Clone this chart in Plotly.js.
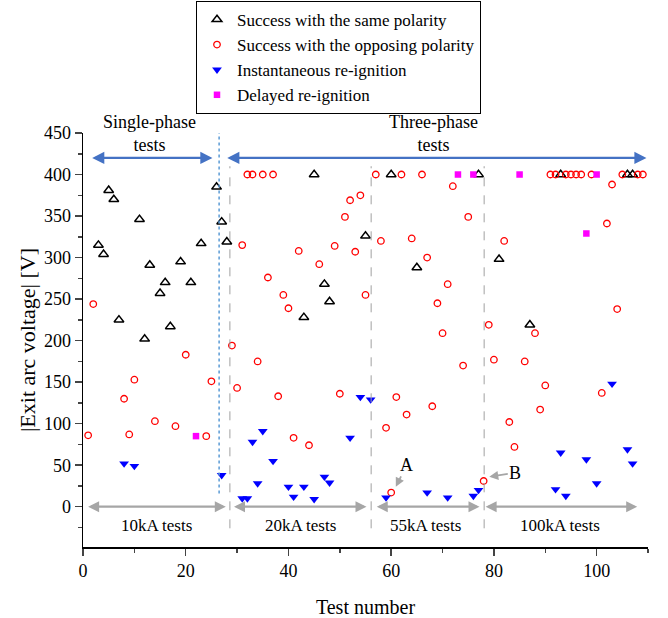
<!DOCTYPE html>
<html>
<head>
<meta charset="utf-8">
<script src="https://cdn.plot.ly/plotly-3.0.1.min.js"></script>
<style>html,body{margin:0;padding:0;background:#fff;}#chart{width:668px;height:618px;}</style>
</head>
<body>
<div id="chart"></div>
<script>
// Success with the same polarity
const samePolX = [3,4,5,6,7,11,12,13,15,16,17,19,21,23,26,27,28,43,45,47,48,55,60,65,77,81,87,93,106,107];
const samePolY = [315,304,381,370,225,346,202,291,257,270,217,295,270,317,385,343,319,228,400,268,247,326,400,288,400,298,219,400,400,400];

// Success with the opposing polarity
const oppPolX = [1,2,8,9,10,14,18,20,24,25,29,30,
  31,32,33,34,35,36,37,38,39,40,41,42,44,46,49,50,51,52,53,54,55,57,
  58,59,60,61,62,63,64,66,67,68,69,70,71,72,74,75,78,
  79,80,82,83,84,86,88,89,90,91,92,94,95,96,97,99,101,102,103,104,105,108,109];
const oppPolY = [86,244,130,87,153,103,97,183,85,151,194,143,
  315,400,400,175,400,276,400,133,255,239,83,308,74,292,314,136,349,369,307,375,255,400,
  320,95,17,132,400,111,323,400,300,121,245,209,268,386,170,349,31,
  219,177,320,102,72,175,209,117,146,400,400,400,400,400,400,400,137,341,388,238,400,400,400];

// Instantaneous re-ignition
const instX = [8,10,27,31,32,33,34,35,37,40,41,43,45,47,48,52,54,56,59,67,71,76,77,92,93,94,98,100,103,106,107];
const instY = [52,49,38,10,10,78,28,91,55,24,12,24,9,36,29,83,132,129,11,17,11,13,20,21,65,13,57,28,148,69,52];

// Delayed re-ignition
const delayX = [22,73,76,85,98,100];
const delayY = [85,400,400,400,329,400];

// Current groups (test number spans) and phase groups
const groupLabels = ["10kA tests","20kA tests","55kA tests","100kA tests"];
const groupStart = [0.7,29.1,56.9,78.1];
const groupEnd = [27.8,55.2,77.2,107.9];
const groupMid = [14.3,42.3,66.6,92.8];
const groupBounds = [28.6,56.1,78.1];
const phaseLabels = ["Single-phase<br>tests","Three-phase<br>tests"];
const phaseStart = [1.5,27.8];
const phaseEnd = [25.2,109.7];
const phaseMid = [13,68.3];
const phaseSplit = 26.5;

const serif = "Liberation Serif, Times New Roman, serif";

const traces = [
  {x: samePolX, y: samePolY, mode: "markers", type: "scatter", name: "Success with the same polarity",
   marker: {symbol: "triangle-up-open", size: 8.5, color: "#000", line: {width: 1.5, color: "#000"}}},
  {x: oppPolX, y: oppPolY, mode: "markers", type: "scatter", name: "Success with the opposing polarity",
   marker: {symbol: "circle-open", size: 6.5, color: "#ff0000", line: {width: 1.3, color: "#ff0000"}}},
  {x: instX, y: instY, mode: "markers", type: "scatter", name: "Instantaneous re-ignition",
   marker: {symbol: "triangle-down", size: 8.5, color: "#0000ff"}},
  {x: delayX, y: delayY, mode: "markers", type: "scatter", name: "Delayed re-ignition",
   marker: {symbol: "square", size: 6.5, color: "#ff00ff"}}
];

const shapes = [];
const annotations = [];
groupBounds.forEach(b => shapes.push({type: "line", xref: "x", yref: "y", x0: b, x1: b, y0: -26, y1: 410,
  line: {color: "#a0a0a0", width: 1, dash: "dash"}}));
shapes.push({type: "line", xref: "x", yref: "y", x0: phaseSplit, x1: phaseSplit, y0: 16, y1: 450,
  line: {color: "#5b9bd5", width: 1.5, dash: "dot"}});

groupLabels.forEach((t, i) => {
  annotations.push({x: groupEnd[i], y: 0, ax: groupStart[i], ay: 0, xref: "x", yref: "y", axref: "x", ayref: "y",
    text: "", showarrow: true, arrowhead: 2, arrowside: "end+start", arrowsize: 1, arrowwidth: 2.2, arrowcolor: "#a6a6a6", standoff: 0, startstandoff: 0});
  annotations.push({x: groupMid[i], y: -23, xref: "x", yref: "y", text: t, showarrow: false,
    font: {family: serif, size: 17, color: "#000"}});
});
phaseLabels.forEach((t, i) => {
  annotations.push({x: phaseEnd[i], y: 420, ax: phaseStart[i], ay: 420, xref: "x", yref: "y", axref: "x", ayref: "y",
    text: "", showarrow: true, arrowhead: 2, arrowside: "end+start", arrowsize: 1.1, arrowwidth: 2.2, arrowcolor: "#4472c4", standoff: 0, startstandoff: 0});
  annotations.push({x: phaseMid[i], y: 450, xref: "x", yref: "y", text: t, showarrow: false, yanchor: "middle",
    font: {family: serif, size: 18, color: "#000"}});
});
annotations.push({x: 60.9, y: 24, xref: "x", yref: "y", text: "A", showarrow: true, ax: 11, ay: -22,
  arrowhead: 2, arrowsize: 1, arrowwidth: 1.8, arrowcolor: "#a6a6a6", standoff: 0, font: {family: serif, size: 18, color: "#000"}});
annotations.push({x: 79.1, y: 36, xref: "x", yref: "y", text: "B", showarrow: true, ax: 26, ay: -4,
  arrowhead: 2, arrowsize: 1, arrowwidth: 1.8, arrowcolor: "#a6a6a6", standoff: 0, font: {family: serif, size: 18, color: "#000"}});

const layout = {
  width: 668, height: 618,
  margin: {l: 83, r: 20, t: 133, b: 71, autoexpand: false},
  paper_bgcolor: "#fff", plot_bgcolor: "#fff",
  font: {family: serif, size: 18, color: "#000"},
  showlegend: true,
  legend: {x: 0.2, y: 1.319, xanchor: "left", yanchor: "top", bordercolor: "#000", borderwidth: 1,
    bgcolor: "#fff", font: {family: serif, size: 17, color: "#000"}},
  xaxis: {range: [0, 110], tickvals: [0,20,40,60,80,100], ticks: "outside", ticklen: 7, tickwidth: 1.5,
    minor: {dtick: 10, tick0: 0, ticks: "outside", ticklen: 4, tickwidth: 1.5, showgrid: false},
    showline: true, linecolor: "#000", linewidth: 1.5, showgrid: false, zeroline: false,
    tickfont: {family: serif, size: 18}, title: {text: "Test number", font: {family: serif, size: 20}, standoff: 20}},
  yaxis: {range: [-48.5, 450], tickvals: [0,50,100,150,200,250,300,350,400,450], ticks: "outside", ticklen: 7, tickwidth: 1.5,
    minor: {dtick: 25, tick0: 0, ticks: "outside", ticklen: 4, tickwidth: 1.5, showgrid: false},
    showline: true, linecolor: "#000", linewidth: 1.5, showgrid: false, zeroline: false,
    tickfont: {family: serif, size: 18}, title: {text: "|Exit arc voltage| [V]", font: {family: serif, size: 22}, standoff: 2}},
  shapes: shapes,
  annotations: annotations
};

Plotly.newPlot("chart", traces, layout, {displayModeBar: false, staticPlot: true});
</script>
</body>
</html>
